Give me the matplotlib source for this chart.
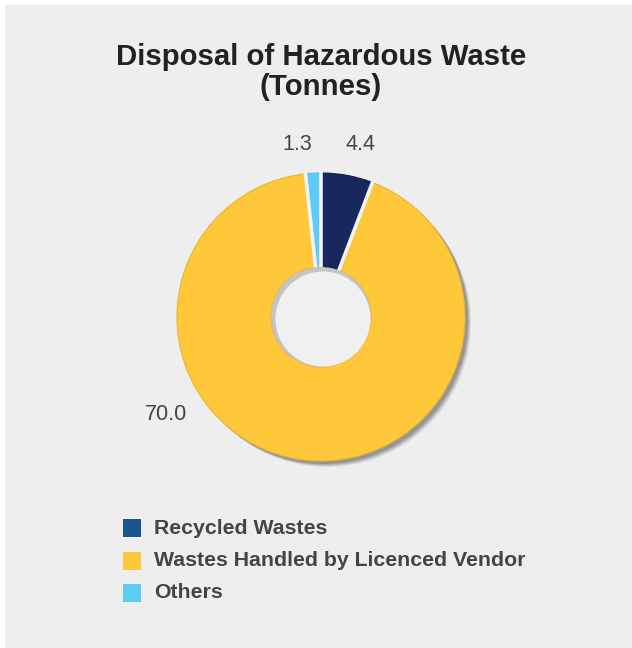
import matplotlib
matplotlib.use("Agg")
import numpy as np
import matplotlib.pyplot as plt
from matplotlib.patches import Rectangle, Circle

categories = ["Recycled Wastes", "Wastes Handled by Licenced Vendor", "Others"]
values = [4.4, 70.0, 1.3]
value_labels = ["4.4", "70.0", "1.3"]
pie_colors = ["#16285c", "#ffc83a", "#5bcdf5"]
edge_colors = ["#121f4c", "#eab431", "#50bde6"]
legend_colors = ["#1a5490", "#ffc83a", "#5bcdf5"]
title = "Disposal of Hazardous Waste\n(Tonnes)"

W, H = 632, 648
fig = plt.figure(figsize=(W / 100, H / 100), dpi=100)
fig.patch.set_facecolor("white")
ax = fig.add_axes([0, 0, 1, 1])

# panel background
ax.add_patch(Rectangle((5, 0), W - 5, H - 5, facecolor="#eeeeee", edgecolor="none", zorder=0))

cx, cy, R = 321, 648 - 317, 144
r_in = 50
width = R - r_in

# shadow
for dx, a in [(6, 0.10), (5, 0.14), (4, 0.18), (3, 0.22)]:
    ax.pie(values, startangle=90, counterclock=False, radius=R, center=(cx + dx, cy - dx),
           colors=["#404040"] * 3,
           wedgeprops=dict(width=width, alpha=a, linewidth=0), frame=True)

wedges, _ = ax.pie(values, startangle=90, counterclock=False, radius=R, center=(cx, cy),
                   colors=pie_colors,
                   wedgeprops=dict(width=width, linewidth=0.8),
                   frame=True)
for w, ec in zip(wedges, edge_colors):
    w.set_edgecolor(ec)
    w.set_zorder(2)

# gaps between slices
for w in wedges:
    t = np.deg2rad(w.theta1)
    ax.plot([cx + (r_in - 2) * np.cos(t), cx + (R + 2) * np.cos(t)],
            [cy + (r_in - 2) * np.sin(t), cy + (R + 2) * np.sin(t)],
            color="#f2f2f2", lw=2.6, solid_capstyle="butt", zorder=3)

# hole with inner shading
ax.add_patch(Circle((cx, cy), r_in, facecolor="#c4c4c4", edgecolor="none", zorder=4))
ax.add_patch(Circle((cx + 2, cy - 2), r_in - 2.5, facecolor="#f0f0f0", edgecolor="none", zorder=5))

ax.set_xlim(0, W)
ax.set_ylim(0, H)
ax.set_aspect("equal")
ax.axis("off")

font = "Liberation Sans"
label_pos = [(360, 145), (166, 415), (297, 145)]
for (x, y), t in zip(label_pos, value_labels):
    ax.text(x, H - y, t, fontsize=15.5, color="#444444", ha="center", va="center", family=font)

fig.text(321 / W, 1 - 72 / H, title, ha="center", va="center", fontsize=21.2,
         fontweight="bold", color="#222222", family=font, linespacing=1.05)

for i, (c, col) in enumerate(zip(categories, legend_colors)):
    y = 528 + i * 32.5
    ax.add_patch(Rectangle((123, H - y - 9), 18, 18, facecolor=col, edgecolor="none"))
    ax.text(154, H - y, c, fontsize=15.3, fontweight="bold", color="#444444",
            va="center", ha="left", family=font)

fig.savefig("out.png", dpi=100, facecolor=fig.get_facecolor())
